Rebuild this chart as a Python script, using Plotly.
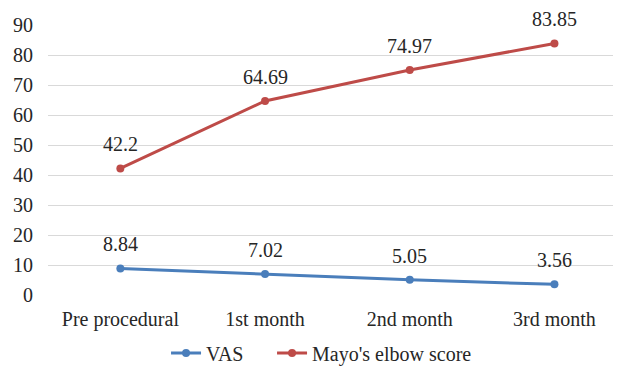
import plotly.graph_objects as go

categories = ["Pre procedural", "1st month", "2nd month", "3rd month"]
vas = [8.84, 7.02, 5.05, 3.56]
mayo = [42.2, 64.69, 74.97, 83.85]
y_ticks = [0, 10, 20, 30, 40, 50, 60, 70, 80, 90]

FONT = "Liberation Serif"
BLUE = "#4A7EBB"
RED = "#BE4B48"
TXT = "#262626"
FS = 20

fig = go.Figure()
for name, vals, col, leg in [("VAS", vas, BLUE, "legend"),
                             ("Mayo's elbow score", mayo, RED, "legend2")]:
    fig.add_trace(go.Scatter(
        x=categories, y=vals, name=name, mode="lines+markers", legend=leg,
        line=dict(color=col, width=3), marker=dict(size=8, color=col),
        cliponaxis=False,
    ))
    for c, v in zip(categories, vals):
        fig.add_annotation(x=c, y=v, text=f"{v:g}", showarrow=False, yshift=24,
                           yanchor="middle", font=dict(family=FONT, size=FS, color=TXT))

legend_style = dict(orientation="h", y=-0.215, yanchor="middle", xanchor="left",
                    font=dict(family=FONT, size=FS, color=TXT))

# page body has an 8px margin; compensate so the chart lands where the reference has it
fig.update_layout(
    width=613, height=358,
    margin=dict(l=40, r=0, t=17, b=71, autoexpand=False),
    paper_bgcolor="white", plot_bgcolor="white",
    font=dict(family=FONT, size=FS, color=TXT),
    showlegend=True,
    legend=dict(x=0.206, **legend_style),
    legend2=dict(x=0.391, **legend_style),
)
fig.update_xaxes(type="category", range=[-0.5, 3.46], showgrid=False, showline=False,
                 zeroline=False, ticks="", ticklabelstandoff=10,
                 tickfont=dict(family=FONT, size=FS, color=TXT))
fig.update_yaxes(range=[0, 90], tickvals=y_ticks, showgrid=True, gridcolor="#D9D9D9",
                 gridwidth=1, zeroline=False, showline=False, ticks="", ticklabelstandoff=14,
                 tickfont=dict(family=FONT, size=FS, color=TXT))

fig.write_html("out.html")
